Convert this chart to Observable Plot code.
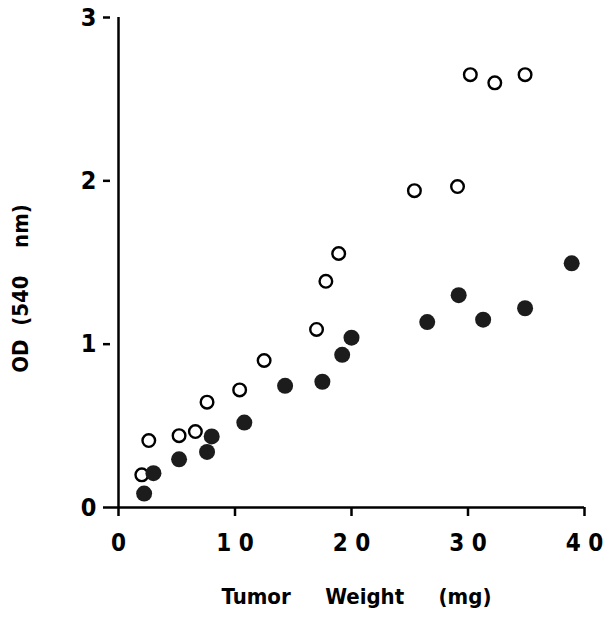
<!DOCTYPE html>
<html>
<head>
<meta charset="utf-8">
<script src="https://cdn.jsdelivr.net/npm/d3@7"></script>
<script src="https://cdn.jsdelivr.net/npm/@observablehq/plot@0.6"></script>
<style>
  html, body { margin: 0; padding: 0; background: #fff; }
  #chart svg { display: block; }
</style>
</head>
<body>
<div id="chart"></div>
<script>
// Open circles
const openX = [2.0, 2.6, 5.2, 6.6, 7.6, 10.4, 12.5, 17.0, 17.8, 18.9, 25.4, 29.1, 30.2, 32.3, 34.9];
const openY = [0.20, 0.41, 0.44, 0.465, 0.645, 0.72, 0.90, 1.09, 1.385, 1.555, 1.94, 1.965, 2.65, 2.60, 2.65];
// Filled circles
const filledX = [2.2, 3.0, 5.2, 7.6, 8.0, 10.8, 14.3, 17.5, 19.2, 20.0, 26.5, 29.2, 31.3, 34.9, 38.9];
const filledY = [0.085, 0.21, 0.295, 0.34, 0.435, 0.52, 0.745, 0.77, 0.935, 1.04, 1.135, 1.30, 1.15, 1.22, 1.495];

const xTicks = [0, 10, 20, 30, 40];
const yTicks = [0, 1, 2, 3];
const xTitle = "Tumor\u00a0\u00a0\u00a0\u00a0\u00a0Weight\u00a0\u00a0\u00a0\u00a0\u00a0(mg)";
const yTitle = "OD\u00a0\u00a0(540\u00a0\u00a0\u00a0\u00a0nm)";

const openData = openX.map((x, i) => ({x, y: openY[i]}));
const filledData = filledX.map((x, i) => ({x, y: filledY[i]}));

const font = "'Liberation Sans Narrow', 'DejaVu Sans Condensed', 'Liberation Sans', sans-serif";

const chart = Plot.plot({
  width: 603,
  height: 617,
  marginLeft: 110,
  marginRight: 19,
  marginTop: 17,
  marginBottom: 110,
  style: {fontFamily: font, fontWeight: "bold", color: "#000", background: "#fff"},
  x: {domain: [0, 40], insetLeft: 8},
  y: {domain: [0, 3]},
  marks: [
    Plot.axisY({ticks: yTicks, tickSize: 7, tickPadding: 7, strokeWidth: 2.5, fontSize: 25, fontWeight: "bold", label: null, tickFormat: d => String(d)}),
    Plot.axisX({ticks: xTicks, tickSize: 9, tickPadding: 17, strokeWidth: 2.5, fontSize: 24, fontWeight: "bold", label: null, tickFormat: d => String(d).split("").join(" ")}),
    Plot.ruleX([0], {y1: 0, y2: 3, strokeWidth: 2.5}),
    Plot.ruleY([0], {strokeWidth: 2.5}),
    Plot.dot(openData, {x: "x", y: "y", r: 6.3, fill: "#fff", stroke: "#000", strokeWidth: 2.4}),
    Plot.dot(filledData, {x: "x", y: "y", r: 8, fill: "#1c1c1c", stroke: "none"}),
    Plot.text([xTitle], {frameAnchor: "bottom", dy: 89, dx: 9, lineAnchor: "middle", textAnchor: "middle", fontSize: 22, fontWeight: "bold"}),
    Plot.text([yTitle], {frameAnchor: "left", dx: -90, dy: 26, rotate: -90, lineAnchor: "middle", textAnchor: "middle", fontSize: 22, fontWeight: "bold"})
  ]
});
document.getElementById("chart").appendChild(chart);
</script>
</body>
</html>
